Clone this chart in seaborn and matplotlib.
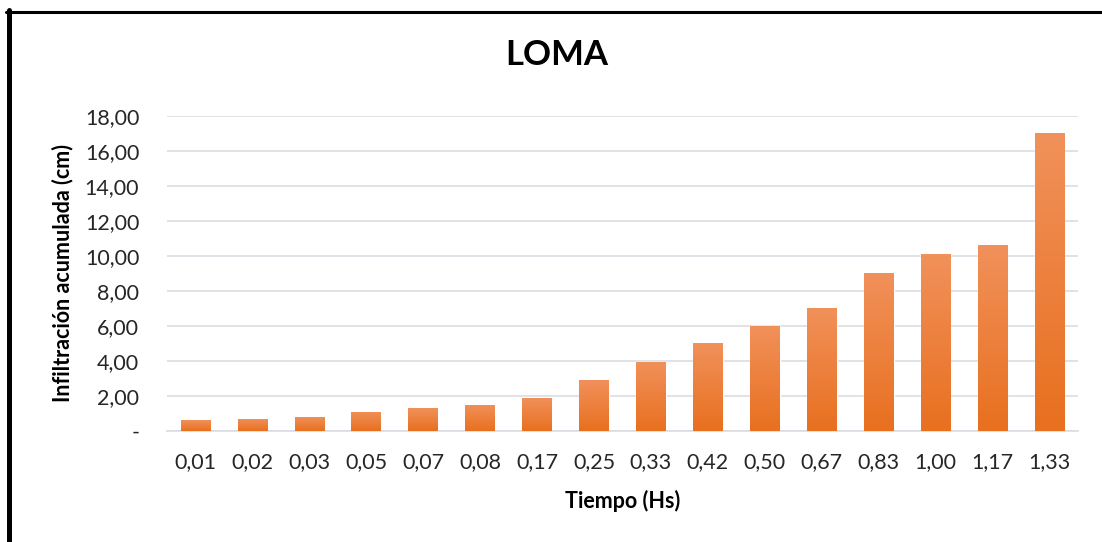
import numpy as np
import pandas as pd
import matplotlib
matplotlib.use("Agg")
import matplotlib.pyplot as plt
from matplotlib.colors import LinearSegmentedColormap
from matplotlib.lines import Line2D
import seaborn as sns

# Cumulative infiltration data
tiempo = ["0,01", "0,02", "0,03", "0,05", "0,07", "0,08", "0,17", "0,25",
          "0,33", "0,42", "0,50", "0,67", "0,83", "1,00", "1,17", "1,33"]
infiltracion = [0.62, 0.69, 0.80, 1.09, 1.31, 1.49, 1.89, 2.91,
                3.94, 5.03, 6.00, 7.03, 9.03, 10.11, 10.63, 17.03]
y_ticks = [0, 2, 4, 6, 8, 10, 12, 14, 16, 18]
y_tick_labels = ["-", "2,00", "4,00", "6,00", "8,00", "10,00",
                 "12,00", "14,00", "16,00", "18,00"]

df = pd.DataFrame({"Tiempo": tiempo, "Infiltracion": infiltracion})

sns.set_theme(style="white")
plt.rcParams["font.family"] = ["Lato", "DejaVu Sans"]

fig = plt.figure(figsize=(11.02, 5.42), dpi=100)
ax = fig.add_axes([167 / 1102, 1 - 431 / 542, (1078 - 167) / 1102, (431 - 115.7) / 542])

sns.barplot(data=df, x="Tiempo", y="Infiltracion", order=tiempo,
            color="#EE7F3A", width=0.52, saturation=1, ax=ax, zorder=2)

# Vertical gradient fill for each bar: lighter at the top, deeper at the base
cmap = LinearSegmentedColormap.from_list("bar_grad", ["#E8701F", "#F1915B"])
grad = np.linspace(0, 1, 256).reshape(-1, 1)
for patch in ax.patches:
    x0, y0 = patch.get_x(), patch.get_y()
    w, h = patch.get_width(), patch.get_height()
    im = ax.imshow(grad, extent=[x0, x0 + w, y0, y0 + h], origin="lower",
                   aspect="auto", cmap=cmap, zorder=3, interpolation="bilinear")
    im.set_clip_path(patch)

ax.set_xlim(-0.5, len(tiempo) - 0.5)
ax.set_ylim(0, 18)
ax.set_yticks(y_ticks)
ax.set_yticklabels(y_tick_labels)

ax.yaxis.grid(True, color="#D9DDE3", linewidth=1.2, zorder=0)
ax.set_axisbelow(True)
for side in ["top", "right", "left"]:
    ax.spines[side].set_visible(False)
ax.spines["bottom"].set_color("#D9DDE3")
ax.spines["bottom"].set_linewidth(1.2)
ax.tick_params(axis="both", length=0, labelsize=15.5, colors="#262626")
ax.tick_params(axis="y", pad=20)
ax.tick_params(axis="x", pad=15)

ax.set_xlabel("Tiempo (Hs)", fontsize=15.5, fontweight="bold", color="black", labelpad=13)
ax.set_ylabel("Infiltración acumulada (cm)", fontsize=15.5, fontweight="bold",
              color="black", labelpad=8)

fig.text(557 / 1102, 1 - 55 / 542, "LOMA", ha="center", va="center",
         fontsize=25, fontweight="bold", color="black")

# Chart frame (left and top edges)
fig.add_artist(Line2D([8.5 / 1102, 8.5 / 1102], [0, 1 - 10 / 542],
                      transform=fig.transFigure, color="black", linewidth=3.6))
fig.add_artist(Line2D([6 / 1102, 1], [1 - 11.5 / 542, 1 - 11.5 / 542],
                      transform=fig.transFigure, color="black", linewidth=2.2))

fig.savefig("out.png", dpi=100)
